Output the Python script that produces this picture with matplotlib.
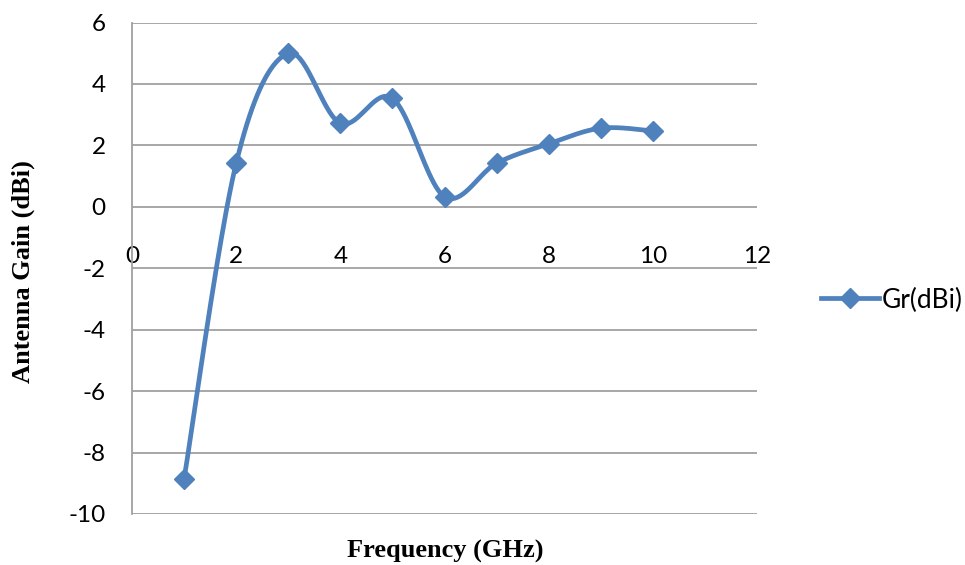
import numpy as np
import matplotlib
matplotlib.use("Agg")
import matplotlib.pyplot as plt
from matplotlib.lines import Line2D

freq = [1, 2, 3, 4, 5, 6, 7, 8, 9, 10]
gain = [-8.86, 1.42, 5.0, 2.72, 3.53, 0.33, 1.42, 2.05, 2.56, 2.47]
series_name = "Gr(dBi)"
x_ticks = [0, 2, 4, 6, 8, 10, 12]
y_ticks = [-10, -8, -6, -4, -2, 0, 2, 4, 6]

BLUE = "#4F81BD"
GRID = "#A0A0A0"
TICKFONT = "Lato"
TICKSIZE = 17.5


def excel_smooth(xs, ys, n=40):
    xs = np.asarray(xs, float)
    ys = np.asarray(ys, float)
    px = np.concatenate([[xs[0]], xs, [xs[-1]]])
    py = np.concatenate([[ys[0]], ys, [ys[-1]]])
    t = np.linspace(0, 1, n)
    ox, oy = [], []
    for i in range(1, len(px) - 2):
        p0 = np.array([px[i], py[i]])
        p3 = np.array([px[i + 1], py[i + 1]])
        c1 = p0 + (np.array([px[i + 1], py[i + 1]]) - np.array([px[i - 1], py[i - 1]])) / 6
        c2 = p3 - (np.array([px[i + 2], py[i + 2]]) - np.array([px[i], py[i]])) / 6
        b = ((1 - t) ** 3)[:, None] * p0 + (3 * (1 - t) ** 2 * t)[:, None] * c1 \
            + (3 * (1 - t) * t ** 2)[:, None] * c2 + (t ** 3)[:, None] * p3
        ox.extend(b[:, 0]); oy.extend(b[:, 1])
    return np.array(ox), np.array(oy)


fig = plt.figure(figsize=(9.65, 5.65), dpi=100)
ax = fig.add_axes([132 / 965, 51 / 565, 625 / 965, 491.5 / 565])

for s in ["top", "right", "bottom"]:
    ax.spines[s].set_visible(False)
ax.spines["left"].set_color(GRID)
ax.spines["left"].set_linewidth(1.3)
ax.spines["bottom"].set_position(("data", 0))

ax.set_xlim(0, 12)
ax.set_ylim(-10, 6)
ax.set_xticks(x_ticks)
ax.set_yticks(y_ticks)
ax.set_xticklabels([str(v) for v in x_ticks])
ax.set_yticklabels([str(v) for v in y_ticks])
ax.tick_params(axis="x", length=0, pad=28, labelsize=TICKSIZE)
ax.tick_params(axis="y", length=0, pad=19, labelsize=TICKSIZE)
for lab in ax.get_xticklabels() + ax.get_yticklabels():
    lab.set_fontfamily(TICKFONT)

for y in y_ticks:
    ax.axhline(y, color=GRID, lw=1.3, zorder=1)

sx, sy = excel_smooth(freq, gain)
ax.plot(sx, sy, color=BLUE, lw=3.4, solid_capstyle="round", zorder=3)
ax.plot(freq, gain, linestyle="none", marker="D", markersize=10.5, color=BLUE, zorder=4)

fig.text(23 / 965, 1 - 272 / 565, "Antenna Gain (dBi)", rotation=90, ha="center", va="center",
         fontfamily="Liberation Serif", fontweight="bold", fontsize=19)
fig.text(445 / 965, 1 - 551 / 565, "Frequency (GHz)", ha="center", va="center",
         fontfamily="Liberation Serif", fontweight="bold", fontsize=19)

handle = Line2D([0], [0], color=BLUE, lw=3.4, marker="D", markersize=10.5)
leg = fig.legend([handle], [series_name], loc="center left",
                 bbox_to_anchor=(797 / 965, 1 - 300 / 565), frameon=False,
                 prop={"family": TICKFONT, "size": 19}, handlelength=2.2, handletextpad=0.12)

fig.savefig("out.png", dpi=100)
